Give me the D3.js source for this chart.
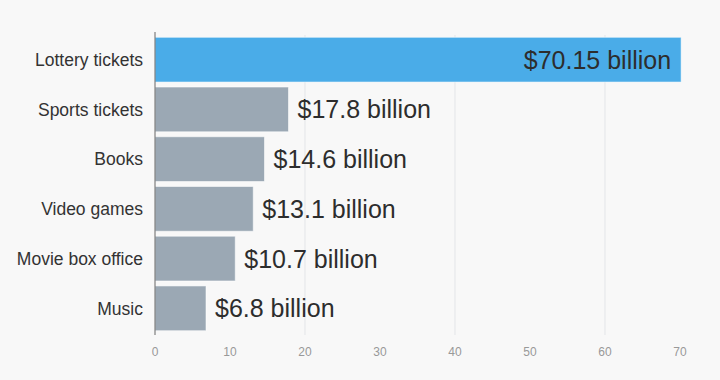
<!DOCTYPE html>
<html>
<head>
<meta charset="utf-8">
<script src="https://cdnjs.cloudflare.com/ajax/libs/d3/7.8.5/d3.min.js"></script>
<style>
  body { margin: 0; background: #f8f8f8; }
  svg { display: block; font-family: "Helvetica Neue", "Liberation Sans", Arial, sans-serif; }
</style>
</head>
<body>
<div id="chart"></div>
<script>
// spending categories, billions of dollars
var categories = ["Lottery tickets", "Sports tickets", "Books", "Video games", "Movie box office", "Music"];
var values = [70.15, 17.8, 14.6, 13.1, 10.7, 6.8];
var valueLabels = ["$70.15 billion", "$17.8 billion", "$14.6 billion", "$13.1 billion", "$10.7 billion", "$6.8 billion"];
var xTicks = [0, 10, 20, 30, 40, 50, 60, 70];
var gridTicks = [20, 40, 60];

var data = categories.map(function(c, i) {
  return { name: c, value: values[i], label: valueLabels[i] };
});

var width = 720, height = 380;

var svg = d3.select("#chart").append("svg")
  .attr("width", width)
  .attr("height", height);

svg.append("rect")
  .attr("width", width).attr("height", height)
  .attr("fill", "#f8f8f8");

var x = d3.scaleLinear()
  .domain([0, 70])
  .range([155, 680]);

var y = d3.scaleBand()
  .domain(categories)
  .range([34.8, 333.2])
  .paddingInner(0.1)
  .paddingOuter(0.05);

// gridlines
svg.selectAll(".grid")
  .data(gridTicks)
  .enter().append("line")
  .attr("x1", function(d) { return x(d); })
  .attr("x2", function(d) { return x(d); })
  .attr("y1", 35)
  .attr("y2", 335)
  .attr("stroke", "#e3e5e8")
  .attr("stroke-width", 1);

// bars
svg.selectAll(".bar")
  .data(data)
  .enter().append("rect")
  .attr("class", "bar")
  .attr("x", x(0))
  .attr("y", function(d) { return y(d.name); })
  .attr("width", function(d) { return x(d.value) - x(0); })
  .attr("height", y.bandwidth())
  .attr("fill", function(d, i) { return i == 0 ? "#4aace8" : "#9ba8b4"; })
  .attr("stroke", "rgba(255,255,255,0.55)")
  .attr("stroke-width", 1);

// value labels
svg.selectAll(".val")
  .data(data)
  .enter().append("text")
  .attr("x", function(d, i) { return i == 0 ? x(d.value) - 10 : x(d.value) + 9; })
  .attr("y", function(d) { return y(d.name) + y.bandwidth() / 2; })
  .attr("dy", "0.36em")
  .attr("text-anchor", function(d, i) { return i == 0 ? "end" : "start"; })
  .attr("font-size", "25px")
  .attr("fill", "#2d2d2d")
  .text(function(d) { return d.label; });

// category labels
svg.selectAll(".cat")
  .data(data)
  .enter().append("text")
  .attr("x", 143)
  .attr("y", function(d) { return y(d.name) + y.bandwidth() / 2; })
  .attr("dy", "0.36em")
  .attr("text-anchor", "end")
  .attr("font-size", "17.5px")
  .attr("fill", "#333")
  .text(function(d) { return d.name; });

// y axis line
svg.append("line")
  .attr("x1", x(0)).attr("x2", x(0))
  .attr("y1", 32).attr("y2", 335)
  .attr("stroke", "#666")
  .attr("stroke-width", 1);

// x tick labels
svg.selectAll(".tick")
  .data(xTicks)
  .enter().append("text")
  .attr("x", function(d) { return x(d); })
  .attr("y", 352)
  .attr("dy", "0.35em")
  .attr("text-anchor", "middle")
  .attr("font-size", "12px")
  .attr("fill", "#999")
  .text(function(d) { return d; });
</script>
</body>
</html>
